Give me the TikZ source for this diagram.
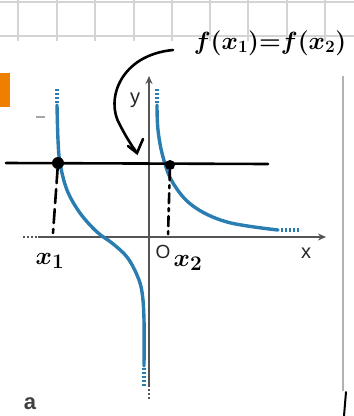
\documentclass[tikz,border=0pt]{standalone}
\usepackage{amsmath}
\usepackage{bm}
\usepackage{fontspec}
\setsansfont{Liberation Sans}
\usetikzlibrary{arrows.meta}
\definecolor{curveblue}{HTML}{2A7DB0}
\definecolor{axisgray}{HTML}{555555}
\definecolor{gridgray}{HTML}{D4D4D4}
\definecolor{markorange}{HTML}{EE7F00}
\tikzset{
  gridline/.style={gridgray, line width=1.8pt},
  axisline/.style={axisgray, line width=1.3pt},
  axisdots/.style={axisgray, line width=1.3pt, dash pattern=on 2pt off 2pt},
  branch/.style={curveblue, line width=3.4pt, line cap=round},
  branchdots/.style={curveblue, line width=3.4pt, dash pattern=on 2pt off 2pt},
  ink/.style={black, line width=2.6pt, line cap=round},
  axlabel/.style={font=\sffamily\fontsize{20}{20}\selectfont, text=black!85, inner sep=0pt},
  hand/.style={font=\fontsize{27}{27}\selectfont, inner sep=0pt, text=black},
}
\begin{document}
\begin{tikzpicture}[x=1pt, y=-1pt]
\useasboundingbox (0,0) rectangle (354,416);
% grid at top
\draw[gridline] (0,2) -- (354,2);
\draw[gridline] (0,36) -- (354,36);
\foreach \gx in {18,57,95,134,172,210,248,287,325}
  \draw[gridline] (\gx,0) -- (\gx,41);
% orange marker
\fill[markorange] (0,73) rectangle (10,107);
% small dash
\draw[gray!70, line width=1.2pt] (36,117) -- (45,117);
% right frame line
\draw[gray!60, line width=1.6pt] (343,76) -- (343,391);
\draw[ink, line width=2pt] (346,392) -- (344,416);
% axes
\coordinate (xs) at (23,237);
\coordinate (xm) at (38,237);
\coordinate (xe) at (326,237);
\coordinate (ys) at (149,76);
\coordinate (ym) at (149,385);
\coordinate (ye) at (149,399);
\draw[axisdots] (xs) -- (xm);
\draw[axisline, -{Stealth[length=8pt,width=7pt]}] (xm) -- (xe);
\draw[axisline, -{Stealth[length=8pt,width=7pt]}] (ym) -- (ys);
\draw[axisdots] (ym) -- (ye);
\node[axlabel] (ylab) at (135,100) {y};
\node[axlabel] (xlab) at (306,253) {x};
\node[axlabel, font=\sffamily\fontsize{19}{19}\selectfont] (olab) at (163,252) {O};
\node[axlabel, font=\sffamily\bfseries\fontsize{22}{22}\selectfont, text=black!75] (alab) at (30,404) {a};
% left branch
\draw[branchdots] (57,89) -- (57,104);
\draw[branch] plot[smooth, tension=0.6] coordinates {(57,105) (58,140) (60,163) (67,190) (80,213) (97,232) (112,243) (127,257) (137,275) (142,292) (144,320) (144,366)};
\draw[branchdots] (144,368) -- (144,386);
% right branch
\draw[branchdots] (157,89) -- (157,104);
\draw[branch] plot[smooth, tension=0.6] coordinates {(157,105) (158,130) (163,157) (173,183) (193,206) (227,222) (278,230)};
\draw[branchdots] (281,230) -- (301,230);
% handwritten ink
\coordinate (hl) at (6,163);
\coordinate (hr) at (268,164);
\draw[ink] (hl) -- (hr);
\node[fill=black, circle, inner sep=0pt, minimum size=12pt] (p1) at (58,163) {};
\node[fill=black, circle, inner sep=0pt, minimum size=10pt] (p2) at (170,165) {};
\coordinate (q1) at (53,233);
\coordinate (q2) at (168,236);
\draw[ink, dash pattern=on 14pt off 6pt] (p1) -- (q1);
\draw[ink, dash pattern=on 10pt off 5pt on 3pt off 5pt] (p2) -- (q2);
\node[hand, font=\fontsize{28}{28}\selectfont] (x1) at (50,261) {$\bm{x_1}$};
\node[hand, font=\fontsize{28}{28}\selectfont] (x2) at (188,263) {$\bm{x_2}$};
\node[hand] (eq) at (270,43) {$\bm{f(x_1){=}f(x_2)}$};
\coordinate (tip) at (137,153);
\draw[ink] (173,50) .. controls (120,55) and (105,100) .. (120,125) .. controls (126,137) and (132,146) .. (tip);
\draw[ink] (128,146) -- (tip) -- (143,139);
\end{tikzpicture}
\end{document}
